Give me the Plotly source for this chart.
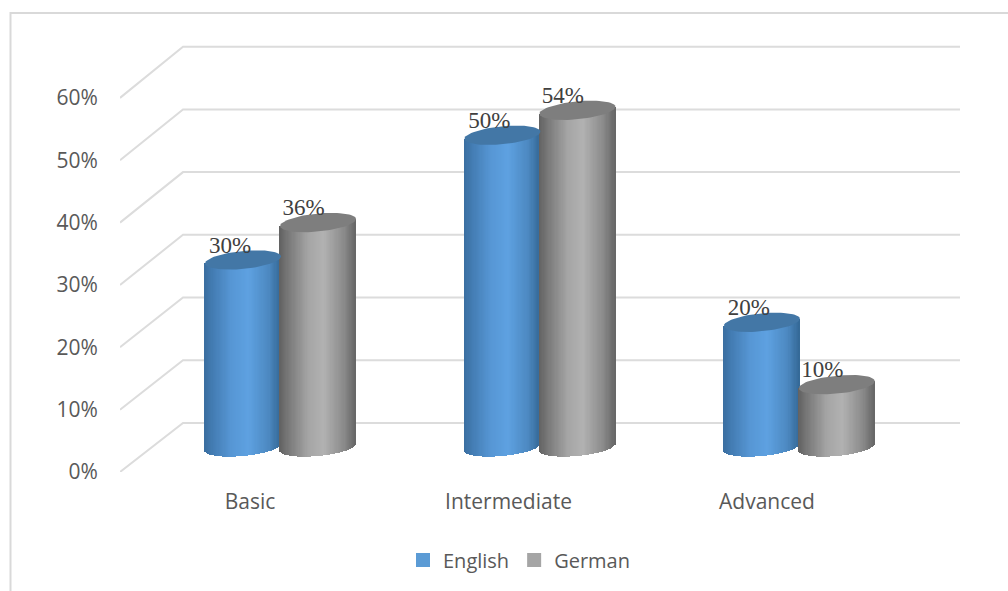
import math
import plotly.graph_objects as go

categories = ["Basic", "Intermediate", "Advanced"]
english = [30, 50, 20]
german = [36, 54, 10]
y_ticks = [0, 10, 20, 30, 40, 50, 60]

W, H = 1008, 591
X_LEFT, X0, X_STEP = 120, 250, 258.5    # pixel of axis start, of category 0, and per category
Y0, Y_SCALE = 472, 6.235                # pixel of 0 %, pixels per 1 %
xr = [(X_LEFT - X0) / X_STEP, (W - X0) / X_STEP]
yr = [0, Y0 / Y_SCALE]
dom_x = [X_LEFT / W, 1]
dom_y = [(H - Y0) / H, 1]


def xu(px):
    return px / X_STEP


def yu(px):
    return px / Y_SCALE


def mix(stops, f):
    for (a, ca), (b, cb) in zip(stops, stops[1:]):
        if f <= b:
            t = (f - a) / (b - a)
            c = [round(p + (q - p) * t) for p, q in zip(ca, cb)]
            return f"rgb({c[0]},{c[1]},{c[2]})"
    c = stops[-1][1]
    return f"rgb({c[0]},{c[1]},{c[2]})"


BLUE = [(0, (58, 110, 160)), (0.12, (68, 125, 180)), (0.35, (86, 150, 212)), (0.58, (94, 161, 225)),
        (0.85, (76, 136, 192)), (1, (52, 104, 150))]
GREY = [(0, (98, 98, 98)), (0.14, (124, 124, 124)), (0.38, (165, 165, 165)), (0.58, (178, 178, 178)),
        (0.85, (138, 138, 138)), (1, (102, 102, 102))]

fig = go.Figure()

# back wall grid with its side-wall diagonals
DEPTH_X, DEPTH_Y, WALL = xu(63), yu(49), 1.006
X_END = (960 - X0) / X_STEP
for v in y_ticks:
    fig.add_trace(go.Scatter(
        x=[xr[0], xr[0] + DEPTH_X, X_END],
        y=[v, v * WALL + DEPTH_Y, v * WALL + DEPTH_Y],
        mode="lines", line=dict(color="#dcdcdc", width=2),
        showlegend=False, hoverinfo="skip", xaxis="x", yaxis="y"))

# cylinders
A, B, TILT = 38.0, 9.0, 3.5
BASE = yu(Y0 - 447)
OFFS = {"English": xu(-7), "German": xu(68)}
LABEL_DX = {"English": xu(-13), "German": xu(-14.5)}
STRETCH = 1.0035   # cylinders sit deeper than the category labels and step slightly wider
N = 64


def cylinder(cx, value, stops, cap):
    w = 2 * xu(A) / N
    xs, bases, hs, cols = [], [], [], []
    top = BASE + value
    for i in range(N):
        f = (i + 0.5) / N
        u = 2 * f - 1
        dy = B * math.sqrt(1 - u * u) - TILT * u
        bottom = BASE - yu(dy)
        xs.append(cx + u * xu(A))
        bases.append(bottom)
        hs.append(top + yu(TILT * u) - bottom)
        cols.append(mix(stops, f))
    fig.add_trace(go.Bar(x=xs, y=hs, base=bases, width=w * 1.25,
                         marker=dict(color=cols, line=dict(width=0)),
                         showlegend=False, hoverinfo="skip", xaxis="x2", yaxis="y2"))
    ts = [2 * math.pi * i / 72 for i in range(73)]
    fig.add_trace(go.Scatter(
        x=[cx + xu(A) * math.cos(t) for t in ts],
        y=[top + yu(B * math.sin(t) + TILT * math.cos(t)) for t in ts],
        mode="lines", fill="toself", fillcolor=cap, line=dict(width=0, color=cap),
        showlegend=False, hoverinfo="skip", xaxis="x2", yaxis="y2"))


for i in range(len(categories)):
    cylinder(i * STRETCH + OFFS["English"], english[i], BLUE, "#4377a6")
    cylinder(i * STRETCH + OFFS["German"], german[i], GREY, "#7e7e7e")

# value labels
label_x, label_y, label_t = [], [], []
for i in range(len(categories)):
    for name, vals in (("English", english), ("German", german)):
        label_x.append(i * STRETCH + OFFS[name] + LABEL_DX[name])
        label_y.append(BASE + vals[i] + yu(13))
        label_t.append(f"{vals[i]}%")
fig.add_trace(go.Scatter(
    x=label_x, y=label_y, text=label_t, mode="text", textposition="middle center",
    textfont=dict(family="Liberation Serif", size=23, color="#404040"),
    showlegend=False, hoverinfo="skip", cliponaxis=False, xaxis="x2", yaxis="y2"))

# legend entries
for name, col in (("English", "#5b9bd5"), ("German", "#a5a5a5")):
    fig.add_trace(go.Scatter(x=[None], y=[None], name=name, mode="markers",
                             marker=dict(symbol="square", size=14, color=col), xaxis="x2", yaxis="y2"))

TXT = dict(family="Open Sans", size=21, color="#595959")
fig.update_layout(
    width=W, height=H, autosize=False,
    margin=dict(l=0, r=0, t=0, b=0, pad=0, autoexpand=False),
    paper_bgcolor="white", plot_bgcolor="white",
    barmode="overlay", bargap=0,
    font=TXT,
    xaxis=dict(domain=dom_x, range=xr, tickmode="array", tickvals=[0, 1, 2], ticktext=categories,
               ticks="outside", ticklen=11, tickcolor="rgba(0,0,0,0)", showgrid=False, zeroline=False,
               showline=False, tickfont=TXT),
    yaxis=dict(domain=dom_y, range=yr, tickmode="array", tickvals=y_ticks, ticktext=[f"{v}%" for v in y_ticks],
               ticks="outside", ticklen=17, tickcolor="rgba(0,0,0,0)", showgrid=False, zeroline=False,
               showline=False, tickfont=TXT),
    xaxis2=dict(domain=dom_x, range=xr, overlaying="x", visible=False, anchor="y2"),
    yaxis2=dict(domain=dom_y, range=yr, overlaying="y", visible=False, anchor="x2"),
    legend=dict(orientation="h", x=519 / W, xanchor="center", y=(H - 560) / H, yanchor="middle",
                itemwidth=30, font=dict(family="Open Sans", size=20, color="#595959"),
                bgcolor="rgba(0,0,0,0)", traceorder="normal"),
    hovermode=False,
    shapes=[dict(type="rect", xref="paper", yref="paper", layer="below",
                 x0=10.5 / W, x1=1.2, y0=-0.2, y1=(H - 13) / H,
                 line=dict(color="#d9d9d9", width=2), fillcolor="rgba(0,0,0,0)")],
)
fig.write_html("out.html", config={"displayModeBar": False},
               post_script="document.body.style.margin='0';")
